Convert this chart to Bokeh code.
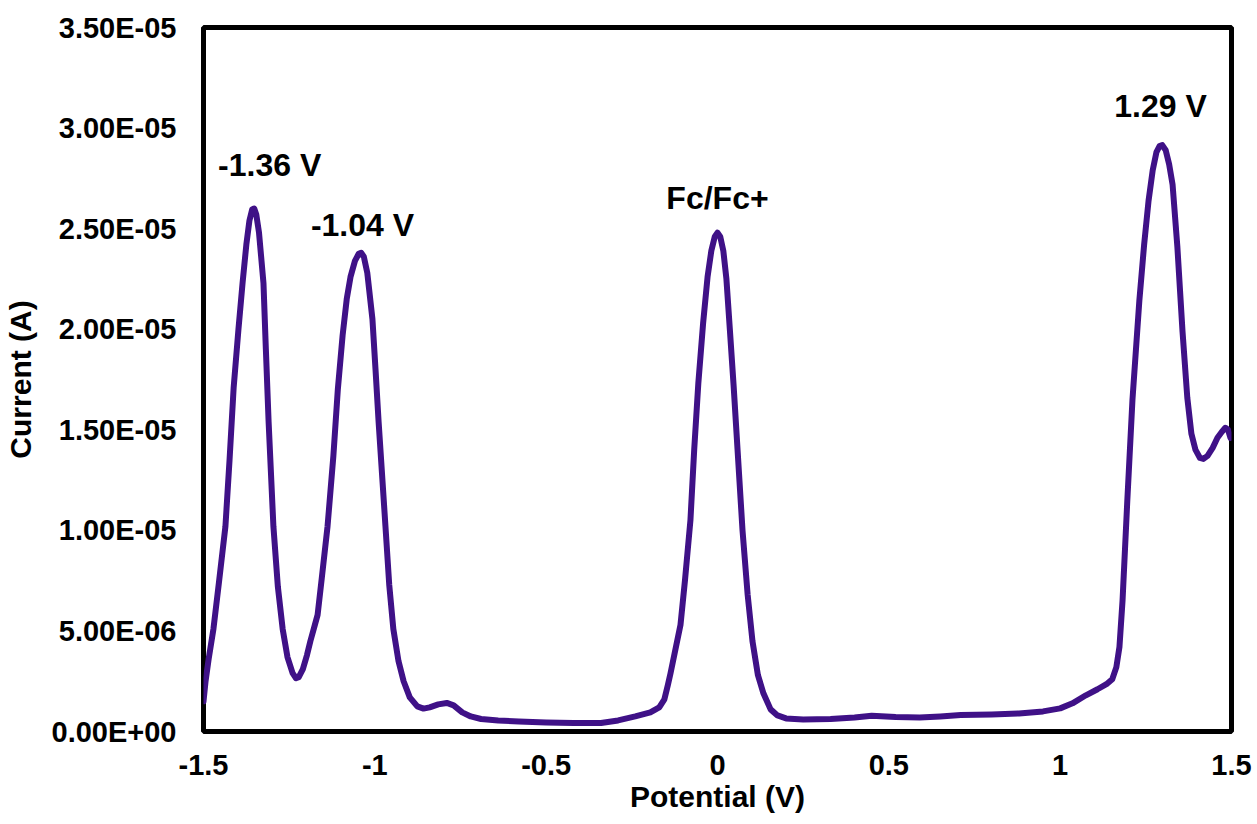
from bokeh.plotting import figure
from bokeh.models import Range1d, FixedTicker, CustomJSTickFormatter, ColumnDataSource
from bokeh.core.properties import value
from bokeh.embed import file_html
from bokeh.resources import INLINE

# ---------------- data ----------------
potential_V = [
    -1.500, -1.494, -1.485, -1.471, -1.455, -1.436, -1.424, -1.412, -1.398, -1.386,
    -1.375, -1.366, -1.358, -1.352, -1.346, -1.338, -1.325, -1.318, -1.310, -1.296,
    -1.283, -1.269, -1.255, -1.240, -1.230, -1.222, -1.210, -1.198, -1.188, -1.175,
    -1.167, -1.155, -1.138, -1.121, -1.108, -1.094, -1.082, -1.071, -1.058, -1.047,
    -1.040, -1.032, -1.022, -1.007, -0.998, -0.989, -0.969, -0.958, -0.946, -0.931,
    -0.916, -0.898, -0.876, -0.858, -0.840, -0.815, -0.790, -0.770, -0.745, -0.720,
    -0.690, -0.640, -0.580, -0.500, -0.420, -0.340, -0.290, -0.240, -0.196, -0.170,
    -0.155, -0.145, -0.137, -0.125, -0.108, -0.095, -0.079, -0.068, -0.056, -0.042,
    -0.029, -0.018, -0.008, 0.000, 0.008, 0.017, 0.026, 0.036, 0.047, 0.060,
    0.073, 0.088, 0.102, 0.118, 0.134, 0.155, 0.175, 0.200, 0.250, 0.330,
    0.400, 0.450, 0.520, 0.590, 0.650, 0.710, 0.800, 0.880, 0.950, 1.000,
    1.036, 1.075, 1.109, 1.135, 1.152, 1.164, 1.173, 1.182, 1.196, 1.211,
    1.231, 1.245, 1.258, 1.270, 1.281, 1.290, 1.298, 1.308, 1.318, 1.328,
    1.342, 1.357, 1.371, 1.383, 1.395, 1.408, 1.418, 1.430, 1.445, 1.459,
    1.472, 1.482, 1.490, 1.497,
]
current_A = [
    1.5e-6, 2.5e-6, 3.6e-6, 5.1e-6, 7.4e-6, 10.2e-6, 13.5e-6, 17.1e-6, 20.0e-6, 22.3e-6,
    24.2e-6, 25.4e-6, 25.95e-6, 26.0e-6, 25.7e-6, 24.8e-6, 22.3e-6, 19.0e-6, 15.4e-6, 10.2e-6,
    7.2e-6, 5.1e-6, 3.7e-6, 2.9e-6, 2.65e-6, 2.7e-6, 3.1e-6, 3.8e-6, 4.5e-6, 5.3e-6,
    5.8e-6, 7.6e-6, 10.2e-6, 13.7e-6, 17.0e-6, 19.7e-6, 21.5e-6, 22.6e-6, 23.4e-6, 23.75e-6,
    23.8e-6, 23.6e-6, 22.8e-6, 20.5e-6, 18.0e-6, 15.4e-6, 10.2e-6, 7.3e-6, 5.1e-6, 3.5e-6,
    2.5e-6, 1.7e-6, 1.25e-6, 1.14e-6, 1.2e-6, 1.35e-6, 1.42e-6, 1.3e-6, 0.95e-6, 0.75e-6,
    0.62e-6, 0.55e-6, 0.5e-6, 0.45e-6, 0.42e-6, 0.42e-6, 0.55e-6, 0.75e-6, 0.95e-6, 1.2e-6,
    1.6e-6, 2.3e-6, 2.9e-6, 3.9e-6, 5.3e-6, 7.5e-6, 10.5e-6, 14.0e-6, 17.3e-6, 20.3e-6,
    22.6e-6, 23.9e-6, 24.6e-6, 24.8e-6, 24.6e-6, 23.9e-6, 22.5e-6, 20.0e-6, 17.2e-6, 13.6e-6,
    10.0e-6, 6.8e-6, 4.5e-6, 2.8e-6, 1.9e-6, 1.1e-6, 0.8e-6, 0.65e-6, 0.6e-6, 0.62e-6,
    0.7e-6, 0.78e-6, 0.72e-6, 0.7e-6, 0.75e-6, 0.82e-6, 0.85e-6, 0.9e-6, 1.0e-6, 1.15e-6,
    1.4e-6, 1.8e-6, 2.1e-6, 2.35e-6, 2.6e-6, 3.2e-6, 4.2e-6, 6.5e-6, 11.5e-6, 16.5e-6,
    21.4e-6, 24.2e-6, 26.4e-6, 27.9e-6, 28.8e-6, 29.1e-6, 29.15e-6, 28.9e-6, 28.2e-6, 27.2e-6,
    24.1e-6, 19.9e-6, 16.6e-6, 14.8e-6, 14.0e-6, 13.6e-6, 13.55e-6, 13.7e-6, 14.1e-6, 14.6e-6,
    14.9e-6, 15.1e-6, 15.0e-6, 14.6e-6,
]

peak_labels = ["-1.36 V", "-1.04 V", "Fc/Fc+", "1.29 V"]
label_potential = [-1.307, -1.036, 0.0, 1.293]
label_current = [28.15e-6, 25.16e-6, 26.5e-6, 31.08e-6]

x_ticks = [-1.5, -1.0, -0.5, 0.0, 0.5, 1.0, 1.5]
x_tick_labels = ["-1.5", "-1", "-0.5", "0", "0.5", "1", "1.5"]
y_ticks = [0.0, 5e-6, 10e-6, 15e-6, 20e-6, 25e-6, 30e-6, 35e-6]
y_tick_labels = ["0.00E+00", "5.00E-06", "1.00E-05", "1.50E-05",
                 "2.00E-05", "2.50E-05", "3.00E-05", "3.50E-05"]

FONT = "Liberation Sans"
LINE_COLOR = "#3f1187"

# ---------------- figure ----------------
p = figure(
    frame_width=1028, frame_height=704,
    min_border_left=203, min_border_right=26, min_border_top=27, min_border_bottom=93,
    x_range=Range1d(-1.5, 1.5), y_range=Range1d(0, 3.5e-5),
    output_backend="svg", toolbar_location=None,
    background_fill_color="white", border_fill_color="white",
)

p.grid.visible = False
p.outline_line_color = "black"
p.outline_line_width = 5

nearest_js = """
let best = 0;
for (let i = 0; i < vals.length; i++) {
  if (Math.abs(vals[i] - tick) < Math.abs(vals[best] - tick)) best = i;
}
return labs[best];
"""

p.xaxis.ticker = FixedTicker(ticks=x_ticks)
p.xaxis.formatter = CustomJSTickFormatter(args=dict(vals=x_ticks, labs=x_tick_labels), code=nearest_js)
p.yaxis.ticker = FixedTicker(ticks=y_ticks)
p.yaxis.formatter = CustomJSTickFormatter(args=dict(vals=y_ticks, labs=y_tick_labels), code=nearest_js)

for ax in (p.xaxis, p.yaxis):
    ax.axis_line_color = None
    ax.major_tick_line_color = None
    ax.minor_tick_line_color = None
    ax.major_tick_out = 0
    ax.major_tick_in = 0
    ax.major_label_text_font = FONT
    ax.major_label_text_font_style = "bold"
    ax.major_label_text_font_size = "29px"
    ax.major_label_text_color = "black"
    ax.axis_label_text_font = FONT
    ax.axis_label_text_font_style = "bold"
    ax.axis_label_text_font_size = "30px"
    ax.axis_label_text_color = "black"

p.xaxis.axis_label = "Potential (V)"
p.yaxis.axis_label = "Current (A)"
p.xaxis.major_label_standoff = 23
p.xaxis.axis_label_standoff = 2
p.yaxis.major_label_standoff = 27
p.yaxis.axis_label_standoff = 12

src = ColumnDataSource(data=dict(x=potential_V, y=current_A))
p.line("x", "y", source=src, line_color=LINE_COLOR, line_width=6, line_join="round", line_cap="round")

lab_src = ColumnDataSource(data=dict(x=label_potential, y=label_current, t=peak_labels))
p.text("x", "y", text="t", source=lab_src,
       text_font=value(FONT), text_font_style="bold", text_font_size="32px",
       text_align="center", text_baseline="alphabetic", text_color="black")

open("out.html", "w").write(file_html(p, INLINE))
